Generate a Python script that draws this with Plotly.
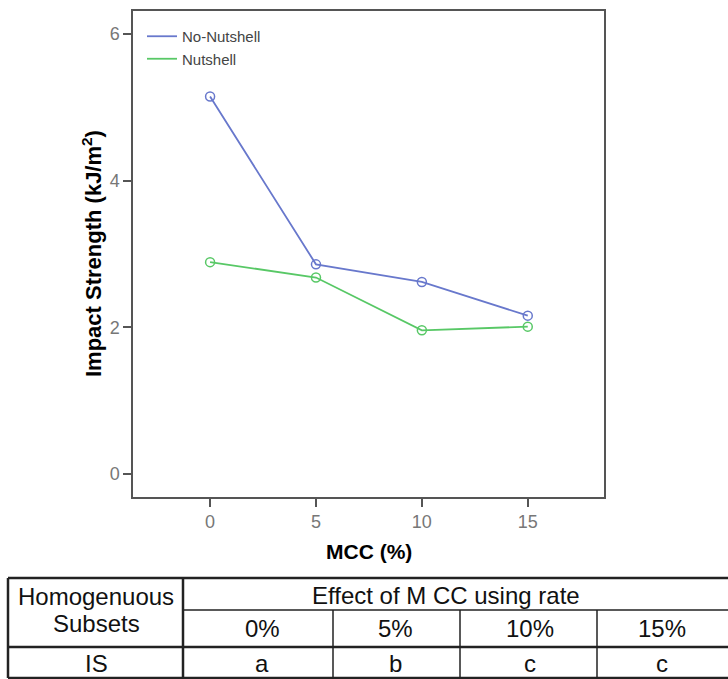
import plotly.graph_objects as go

# ---- data ----
mcc = [0, 5, 10, 15]
no_nutshell = [5.15, 2.86, 2.62, 2.16]
nutshell = [2.89, 2.68, 1.96, 2.01]
series_names = ["No-Nutshell", "Nutshell"]
y_ticks = [0, 2, 4, 6]

table_row_header = ["Homogenuous", "Subsets", "IS"]
table_group_header = "Effect of M CC using rate"
table_cols = ["0%", "5%", "10%", "15%"]
table_letters = ["a", "b", "c", "c"]

W, H = 728, 679
def px(x):
    return x / W
def py(y):
    return 1 - y / H

BLUE = "#6878cc"
GREEN = "#58c866"

fig = go.Figure()
for name, vals, col in [(series_names[0], no_nutshell, BLUE), (series_names[1], nutshell, GREEN)]:
    fig.add_trace(go.Scatter(x=mcc, y=vals, mode="lines", name=name,
                             line=dict(color=col, width=1.8)))
    fig.add_trace(go.Scatter(x=mcc, y=vals, mode="markers", name=name, showlegend=False,
                             marker=dict(symbol="circle-open", size=9, color=col,
                                         line=dict(color=col, width=1.5))))

font_main = "Liberation Sans, Arial, sans-serif"

fig.update_layout(
    width=W, height=H,
    margin=dict(l=0, r=0, t=0, b=0),
    paper_bgcolor="white", plot_bgcolor="white",
    font=dict(family=font_main),
    legend=dict(x=px(142), y=py(20), xanchor="left", yanchor="top",
                bgcolor="rgba(0,0,0,0)", font=dict(size=15, color="#444"),
                tracegroupgap=0),
    xaxis=dict(domain=[px(133), px(604)], range=[-3.64, 18.6],
               tickvals=mcc, ticks="outside", ticklen=8, tickwidth=1.5, tickcolor="#555",
               showline=True, linecolor="#555", linewidth=1.5, mirror=True,
               showgrid=False, zeroline=False,
               tickfont=dict(size=18, color="#777")),
    yaxis=dict(domain=[py(497), py(11)], range=[-0.314, 6.316],
               tickvals=y_ticks, ticks="outside", ticklen=8, tickwidth=1.5, tickcolor="#555",
               showline=True, linecolor="#555", linewidth=1.5, mirror=True,
               showgrid=False, zeroline=False,
               tickfont=dict(size=18, color="#777")),
)

def A(x, y, text, font, **kw):
    d = dict(x=px(x), y=py(y), xref="paper", yref="paper", text=text, showarrow=False,
             xanchor="center", yanchor="middle", font=font)
    d.update(kw)
    return d

ann = []
ann.append(A(369, 551, "<b>MCC (%)</b>", dict(size=21, color="black")))
ann.append(A(92, 254, "<b>Impact Strength (kJ/m<sup>2</sup>)</b>", dict(size=22, color="black"),
             textangle=-90))

tfont = dict(size=24, color="#111", family=font_main)
ann.append(A(96, 596, table_row_header[0], tfont))
ann.append(A(96, 623, table_row_header[1], tfont))
ann.append(A(96, 663, table_row_header[2], tfont))
ann.append(A(446, 595, table_group_header, tfont))
col_centers = [262, 396, 530, 662]
for cx, lab, let in zip(col_centers, table_cols, table_letters):
    ann.append(A(cx, 628, lab, tfont))
    ann.append(A(cx, 663, let, tfont))
fig.update_layout(annotations=ann)

shapes = []
def hline(y, x0, x1, w=2):
    shapes.append(dict(type="line", xref="paper", yref="paper", x0=px(x0), x1=px(x1),
                       y0=py(y), y1=py(y), line=dict(color="#222", width=w)))
def vline(x, y0, y1, w=2):
    shapes.append(dict(type="line", xref="paper", yref="paper", x0=px(x), x1=px(x),
                       y0=py(y0), y1=py(y1), line=dict(color="#222", width=w)))
hline(578, 8, 728, 2.5)
hline(610, 183, 728, 1.5)
hline(647, 8, 728, 2.5)
hline(678, 8, 728, 2.5)
vline(8, 578, 678, 2.5)
vline(183, 578, 678, 2.5)
for x in [333, 460, 597]:
    vline(x, 610, 678, 1.5)
fig.update_layout(shapes=shapes)

fig.write_html("out.html")
